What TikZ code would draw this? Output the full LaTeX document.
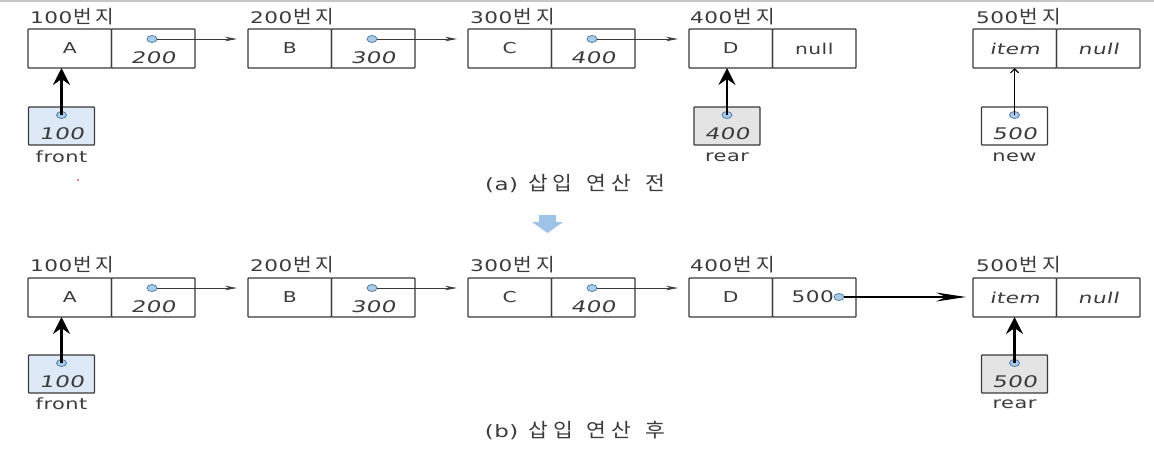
\documentclass[tikz,border=0pt]{standalone}
\usepackage{fontspec}
\usetikzlibrary{shapes.geometric,arrows.meta}
\setmainfont{DejaVu Sans}[FakeStretch=1.35,LetterSpace=3]
\newfontfamily\obl{DejaVu Sans}[FakeStretch=1.45,FakeSlant=0.2,LetterSpace=2]
\newfontfamily\kr{Noto Sans CJK KR}[FakeStretch=1.1,Scale=1.15]
\definecolor{linec}{HTML}{3A3A3A}
\definecolor{txtc}{HTML}{3C3C3C}
\definecolor{dotf}{HTML}{A9CBE8}
\definecolor{dotd}{HTML}{4F7FAA}
\definecolor{frontf}{HTML}{DDE9F7}
\definecolor{rearf}{HTML}{E4E4E4}
\definecolor{bluearr}{HTML}{9DC3E8}
\tikzset{
  cell/.style={draw=linec, line width=1.2pt, rounded corners=0.8pt, minimum width=83.5pt, minimum height=39pt, inner sep=0pt, outer sep=0pt, text=txtc, font=\fontsize{15}{17}\selectfont},
  ptrbox/.style={draw=linec, line width=1.2pt, rounded corners=0.8pt, minimum width=66pt, minimum height=38pt, inner sep=0pt, outer sep=0pt},
  dot/.style={ellipse, draw=dotd, fill=dotf, minimum width=10pt, minimum height=7pt, inner sep=0pt, outer sep=0pt, line width=0.8pt},
  val/.style={inner sep=0pt, text=txtc, font=\obl\fontsize{16}{18}\selectfont},
  addr/.style={anchor=west, inner sep=0pt, text=txtc, font=\fontsize{16}{18}\selectfont},
  plabel/.style={inner sep=0pt, text=txtc, font=\fontsize{15.5}{18}\selectfont},
  caption/.style={inner sep=0pt, text=txtc, font=\fontsize{17}{19}\selectfont},
  link/.style={draw=linec, line width=0.8pt, -{Stealth[length=12pt,width=4.5pt]}},
  biglink/.style={draw=black, line width=1.1pt, -{Stealth[length=30pt,width=9pt,inset=10pt]}},
  thickptr/.style={draw=black, line width=2.3pt, -{Stealth[length=17pt,width=17pt,inset=6pt]}},
  thinptr/.style={draw=black, line width=1.1pt, -{Straight Barb[length=4pt,width=8pt]}},
}
\newcommand{\bunji}[1]{#1\hspace{1pt}{\kr 번\hspace{4pt}지}}
\begin{document}
\begin{tikzpicture}[x=1pt,y=-1pt]
\useasboundingbox (0,0) rectangle (1154,448);
\fill[white] (0,0) rectangle (1154,448);
\draw[draw=gray!45, line width=1.5pt] (0,1) -- (1154,1);

% ---------- (a) ----------
\node[cell] (a1d) at (69.75,48.5) {A};
\node[cell] (a1l) at (153.25,48.5) {};
\node[cell] (b1d) at (289.75,48.5) {B};
\node[cell] (b1l) at (373.25,48.5) {};
\node[cell] (c1d) at (509.75,48.5) {C};
\node[cell] (c1l) at (593.25,48.5) {};
\node[cell] (d1d) at (730.75,48.5) {D};
\node[cell] (d1l) at (814.25,48.5) {null};
\node[cell] (e1d) at (1014.75,48.5) {\obl item};
\node[cell] (e1l) at (1098.25,48.5) {\obl null};

\node[addr] (la1) at (30,17) {\bunji{100}};
\node[addr] (lb1) at (250,17) {\bunji{200}};
\node[addr] (lc1) at (470,17) {\bunji{300}};
\node[addr] (ld1) at (690,17) {\bunji{400}};
\node[addr] (le1) at (976,17) {\bunji{500}};

\node[val] (a1v) at (153,58) {200};
\node[val] (b1v) at (373,58) {300};
\node[val] (c1v) at (593,58) {400};
\node[dot] (a1p) at (152,39) {};
\node[dot] (b1p) at (372,39) {};
\node[dot] (c1p) at (592,39) {};
\draw[link, shorten >=11pt] (a1p) -- (a1p -| b1d.west);
\draw[link, shorten >=11pt] (b1p) -- (b1p -| c1d.west);
\draw[link, shorten >=11pt] (c1p) -- (c1p -| d1d.west);

% pointer boxes (a)
\node[ptrbox, fill=frontf] (f1) at (61.5,126) {};
\node[val] (f1v) at (61.5,134) {100};
\node[dot] (f1p) at (61.5,115) {};
\node[plabel] (f1n) at (61.5,157) {front};
\draw[thickptr] (f1p.center) -- (f1p |- a1d.south);

\node[ptrbox, fill=rearf] (r1) at (727,126) {};
\node[val] (r1v) at (727,134) {400};
\node[dot] (r1p) at (727,115) {};
\node[plabel] (r1n) at (727,157) {rear};
\draw[thickptr] (r1p.center) -- (r1p |- d1d.south);

\node[ptrbox, fill=white] (n1) at (1014.5,126) {};
\node[val] (n1v) at (1014.5,134) {500};
\node[dot] (n1p) at (1014.5,115) {};
\node[plabel] (n1n) at (1014.5,157) {new};
\draw[thinptr] (n1p.center) -- (n1p |- e1d.south);

\node[caption] (capa) at (575,184) {(a)\hspace{10pt}{\kr 삽\hspace{5pt}입\hspace{14pt}연\hspace{5pt}산\hspace{14pt}전}};
\fill[red!80!black] (78,180) circle (0.9pt);

% blue arrow
\fill[bluearr] (539,215) -- (556,215) -- (556,222) -- (563,222) -- (547.5,233) -- (532,222) -- (539,222) -- cycle;

% ---------- (b) ----------
\node[cell] (a2d) at (69.75,297.5) {A};
\node[cell] (a2l) at (153.25,297.5) {};
\node[cell] (b2d) at (289.75,297.5) {B};
\node[cell] (b2l) at (373.25,297.5) {};
\node[cell] (c2d) at (509.75,297.5) {C};
\node[cell] (c2l) at (593.25,297.5) {};
\node[cell] (d2d) at (730.75,297.5) {D};
\node[cell] (d2l) at (814.25,297.5) {};
\node[cell] (e2d) at (1014.75,297.5) {\obl item};
\node[cell] (e2l) at (1098.25,297.5) {\obl null};

\node[addr] (la2) at (30,265) {\bunji{100}};
\node[addr] (lb2) at (250,265) {\bunji{200}};
\node[addr] (lc2) at (470,265) {\bunji{300}};
\node[addr] (ld2) at (690,265) {\bunji{400}};
\node[addr] (le2) at (976,265) {\bunji{500}};

\node[val] (a2v) at (153,307) {200};
\node[val] (b2v) at (373,307) {300};
\node[val] (c2v) at (593,307) {400};
\node[dot] (a2p) at (152,288) {};
\node[dot] (b2p) at (372,288) {};
\node[dot] (c2p) at (592,288) {};
\draw[link, shorten >=11pt] (a2p) -- (a2p -| b2d.west);
\draw[link, shorten >=11pt] (b2p) -- (b2p -| c2d.west);
\draw[link, shorten >=11pt] (c2p) -- (c2p -| d2d.west);

\node[dot] (d2p) at (839,297) {};
\node[plabel, anchor=east, font=\fontsize{16}{18}\selectfont] (d2v) at (d2p.west) {500};
\draw[biglink, shorten >=7pt] (d2p) -- (d2p -| e2d.west);

% pointer boxes (b)
\node[ptrbox, fill=frontf] (f2) at (61.5,374) {};
\node[val] (f2v) at (61.5,382) {100};
\node[dot] (f2p) at (61.5,363) {};
\node[plabel] (f2n) at (61.5,404) {front};
\draw[thickptr] (f2p.center) -- (f2p |- a2d.south);

\node[ptrbox, fill=rearf] (r2) at (1014.5,374) {};
\node[val] (r2v) at (1014.5,382) {500};
\node[dot] (r2p) at (1014.5,363) {};
\node[plabel] (r2n) at (1014.5,404) {rear};
\draw[thickptr] (r2p.center) -- (r2p |- e2d.south);

\node[caption] (capb) at (575,430) {(b)\hspace{10pt}{\kr 삽\hspace{5pt}입\hspace{14pt}연\hspace{5pt}산\hspace{14pt}후}};
\end{tikzpicture}
\end{document}
